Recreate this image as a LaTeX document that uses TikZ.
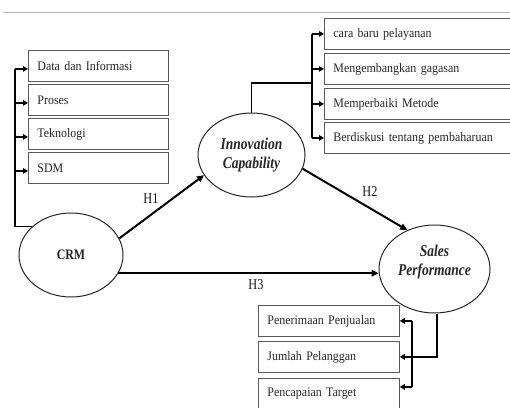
\documentclass[tikz,border=0pt]{standalone}
\usepackage{fontspec}
\setmainfont{Liberation Serif}
\newfontfamily\boxfont[FakeStretch=0.92]{Liberation Serif}
\newfontfamily\narrowfont[FakeStretch=0.82]{Liberation Serif}
\usetikzlibrary{shapes.geometric,arrows.meta}
\begin{document}
\begin{tikzpicture}[x=1pt,y=-1pt,
  lbox/.style={draw=black!65, line width=0.8pt, anchor=north west, inner xsep=9pt, inner ysep=0pt,
     minimum height=31pt, align=left, text=black!85, font=\boxfont\fontsize{13}{15}\selectfont},
  ell/.style={ellipse, draw=black!85, line width=1pt, inner sep=0pt},
  lab/.style={text=black!85, align=center, font=\narrowfont\fontsize{16.5}{19.5}\selectfont\bfseries\itshape},
  hlab/.style={text=black!90, font=\narrowfont\fontsize{15}{17}\selectfont},
  line/.style={draw=black, line width=1.6pt},
  arr/.style={draw=black, line width=1.6pt, -{Triangle[length=5pt,width=5.5pt]}},
  harr/.style={draw=black, line width=2pt, -{Triangle[length=7pt,width=6.5pt]}}]
\useasboundingbox (0,0) rectangle (510,407);
\clip (0,0) rectangle (510,407);
\fill[white] (0,0) rectangle (510,407);
\draw[color={rgb,255:red,170;green,186;blue,206}, line width=0.8pt] (3,12) -- (510,12);

% ellipses
\node[ell, minimum width=104pt, minimum height=84pt] (crm) at (71,255) {};
\node[text=black!85, font=\narrowfont\fontsize{14.5}{16}\selectfont\bfseries] (crmt) at (crm.center) {CRM};
\node[ell, minimum width=107pt, minimum height=84pt, lab] (ic) at (251.5,155) {Innovation\\Capability};
\node[ell, minimum width=111pt, minimum height=88pt] (sales) at (434.5,269) {};
\node[lab] (salest) at (434.5,262) {Sales\\Performance};

% left boxes
\node[lbox, text width=122pt] (d1) at (28,50) {Data dan Informasi};
\node[lbox, text width=122pt] (d2) at (28,84) {Proses};
\node[lbox, text width=122pt] (d3) at (28,118) {Teknologi};
\node[lbox, text width=122pt] (d4) at (28,152) {SDM};

% right top boxes
\node[lbox, text width=190pt] (r1) at (324,18) {cara baru pelayanan};
\node[lbox, text width=190pt] (r2) at (324,53) {Mengembangkan gagasan};
\node[lbox, text width=190pt] (r3) at (324,88) {Memperbaiki Metode};
\node[lbox, text width=190pt] (r4) at (324,122) {Berdiskusi tentang pembaharuan};

% bottom boxes
\node[lbox, text width=123pt] (p1) at (258,305) {Penerimaan Penjualan};
\node[lbox, text width=123pt] (p2) at (258,341) {Jumlah Pelanggan};
\node[lbox, text width=123pt] (p3) at (258,378) {Pencapaian Target};

% left bus
\coordinate (lb) at (15,0);
\draw[line] (crm.144) -- (crm.144 -| lb) -- ([yshift=-3pt]d1.west -| lb);
\foreach \n in {d1,d2,d3,d4} \draw[arr] ([yshift=-3pt]\n.west -| lb) -- ([yshift=-3pt]\n.west);

% top right bus
\coordinate (tb) at (312,83);
\draw[line] (ic.north) |- (tb);
\draw[line] (r1.west -| tb) -- (r4.west -| tb);
\foreach \n in {r1,r2,r3,r4} \draw[arr] (\n.west -| tb) -- (\n.west);

% bottom bus
\coordinate (bb) at (412,0);
\draw[arr] ([xshift=2.5pt]sales.south) |- (p2.east);
\draw[line] (p1.east -| bb) -- ([yshift=7pt]p3.east -| bb);
\draw[arr] (p1.east -| bb) -- (p1.east);
\draw[arr] ([yshift=7pt]p3.east -| bb) -- ([yshift=7pt]p3.east);

% hypotheses
\draw[harr] (crm.19) -- (ic.203);
\draw[harr] (ic.-15) -- (sales.125);
\draw[harr] (crm.-21) -- (crm.-21 -| sales.west);
\node[hlab] (h1) at (151,199) {H1};
\node[hlab] (h2) at (370,192) {H2};
\node[hlab] (h3) at (256,285) {H3};
\end{tikzpicture}
\end{document}
